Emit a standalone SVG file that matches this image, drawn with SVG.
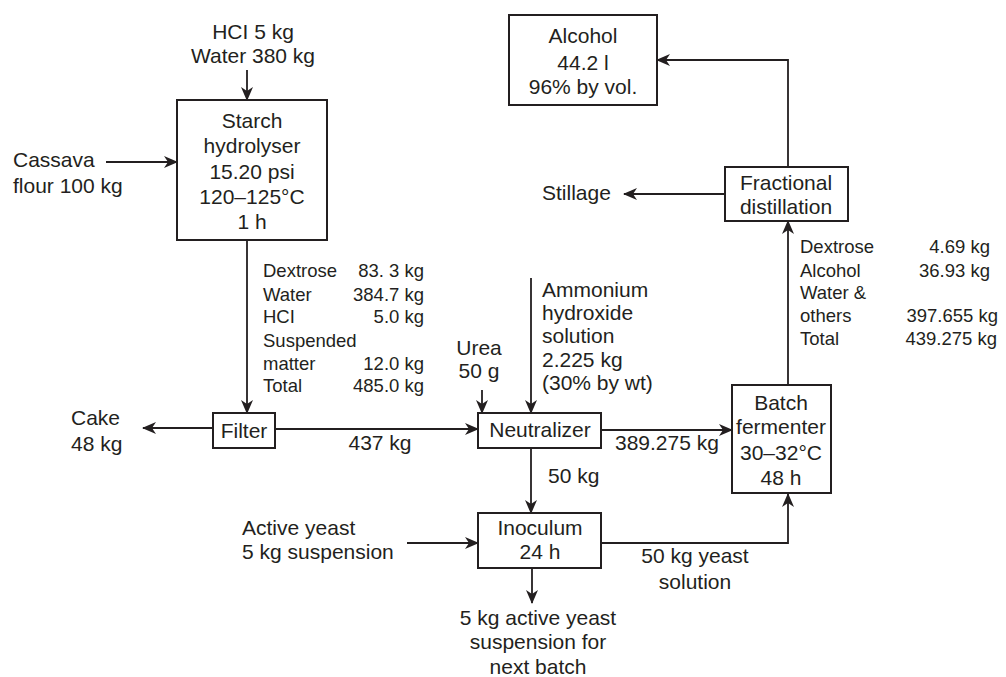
<svg xmlns="http://www.w3.org/2000/svg" width="1006" height="677" viewBox="0 0 1006 677">
<style>
text{font-family:"Liberation Sans",Arial,sans-serif;fill:#231f20;font-size:21px}
.t{font-size:18.5px}
.c{text-anchor:middle}
.e{text-anchor:end}
.box{fill:#fff;stroke:#231f20;stroke-width:2}
.ln{fill:none;stroke:#231f20;stroke-width:1.8;marker-end:url(#ah)}
</style>
<defs>
<marker id="ah" markerUnits="userSpaceOnUse" markerWidth="14" markerHeight="12" viewBox="0 0 14 12" refX="13" refY="6" orient="auto">
<path d="M0,0 L14,6 L0,12 L4,6 z" fill="#231f20"/>
</marker>
</defs>
<rect width="1006" height="677" fill="#fff"/>
<g id="connectors">
<line class="ln" x1="247" y1="70" x2="247" y2="100"/>
<line class="ln" x1="106" y1="162" x2="177" y2="162"/>
<line class="ln" x1="247" y1="240" x2="247" y2="413"/>
<line class="ln" x1="213" y1="428" x2="143" y2="428"/>
<line class="ln" x1="275" y1="429" x2="478" y2="429"/>
<line class="ln" x1="482" y1="390" x2="482" y2="413"/>
<line class="ln" x1="531" y1="278" x2="531" y2="413"/>
<line class="ln" x1="601" y1="430" x2="732" y2="430"/>
<line class="ln" x1="531" y1="448" x2="531" y2="513"/>
<line class="ln" x1="407" y1="543" x2="478" y2="543"/>
<line class="ln" x1="532" y1="568" x2="532" y2="603"/>
<path class="ln" d="M601,543 H788 V494"/>
<line class="ln" x1="788" y1="385" x2="788" y2="221"/>
<line class="ln" x1="725" y1="194" x2="624" y2="194"/>
<path class="ln" d="M788,167 V60 H657"/>
</g>
<g id="inputs">
<text class="c" x="253" y="39">HCI 5 kg</text>
<text class="c" x="253" y="63">Water 380 kg</text>
<text x="13" y="167">Cassava</text>
<text x="13" y="193">flour 100 kg</text>
<text class="c" x="479" y="355">Urea</text>
<text class="c" x="479" y="378">50 g</text>
<text x="542" y="297">Ammonium</text>
<text x="542" y="320">hydroxide</text>
<text x="542" y="343">solution</text>
<text x="542" y="367">2.225 kg</text>
<text x="542" y="390">(30% by wt)</text>
<text x="242" y="535">Active yeast</text>
<text x="242" y="559">5 kg suspension</text>
</g>
<g id="starch-hydrolyser">
<rect class="box" x="177" y="100" width="150" height="140"/>
<text class="c" x="252" y="128">Starch</text>
<text class="c" x="252" y="153">hydrolyser</text>
<text class="c" x="252" y="179">15.20 psi</text>
<text class="c" x="252" y="204">120–125°C</text>
<text class="c" x="252" y="229">1 h</text>
</g>
<g id="hydrolysate-table">
<text class="t" x="263" y="277">Dextrose</text><text class="t e" x="424" y="277">83. 3 kg</text>
<text class="t" x="263" y="301">Water</text><text class="t e" x="424" y="301">384.7 kg</text>
<text class="t" x="263" y="323">HCI</text><text class="t e" x="424" y="323">5.0 kg</text>
<text class="t" x="263" y="347">Suspended</text>
<text class="t" x="263" y="370">matter</text><text class="t e" x="424" y="370">12.0 kg</text>
<text class="t" x="263" y="392">Total</text><text class="t e" x="424" y="392">485.0 kg</text>
</g>
<g id="filter">
<rect class="box" x="213" y="413" width="62" height="35"/>
<text class="c" x="244" y="438">Filter</text>
</g>
<g id="cake">
<text x="71" y="425">Cake</text>
<text x="71" y="451">48 kg</text>
</g>
<g id="flow-labels">
<text class="c" x="380" y="450">437 kg</text>
<text x="615" y="450">389.275 kg</text>
<text x="548" y="483">50 kg</text>
<text class="c" x="695" y="563">50 kg yeast</text>
<text class="c" x="695" y="589">solution</text>
<text class="c" x="538" y="625">5 kg active yeast</text>
<text class="c" x="538" y="649">suspension for</text>
<text class="c" x="538" y="674">next batch</text>
</g>
<g id="neutralizer">
<rect class="box" x="478" y="413" width="123" height="35"/>
<text class="c" x="540" y="437">Neutralizer</text>
</g>
<g id="inoculum">
<rect class="box" x="478" y="513" width="123" height="55"/>
<text class="c" x="540" y="535">Inoculum</text>
<text class="c" x="540" y="559">24 h</text>
</g>
<g id="batch-fermenter">
<rect class="box" x="732" y="385" width="99" height="108"/>
<text class="c" x="781" y="410">Batch</text>
<text class="c" x="781" y="434">fermenter</text>
<text class="c" x="781" y="460">30–32°C</text>
<text class="c" x="781" y="485">48 h</text>
</g>
<g id="broth-table">
<text class="t" x="800" y="253">Dextrose</text><text class="t e" x="990" y="253">4.69 kg</text>
<text class="t" x="800" y="277">Alcohol</text><text class="t e" x="990" y="277">36.93 kg</text>
<text class="t" x="800" y="299">Water &amp;</text>
<text class="t" x="800" y="322">others</text><text class="t e" x="998" y="322">397.655 kg</text>
<text class="t" x="800" y="345">Total</text><text class="t e" x="997" y="345">439.275 kg</text>
</g>
<g id="fractional-distillation">
<rect class="box" x="725" y="167" width="123" height="54"/>
<text class="c" x="786" y="190">Fractional</text>
<text class="c" x="786" y="214">distillation</text>
</g>
<g id="stillage">
<text x="542" y="200">Stillage</text>
</g>
<g id="alcohol">
<rect class="box" x="509" y="15" width="148" height="90"/>
<text class="c" x="583" y="43">Alcohol</text>
<text class="c" x="583" y="70">44.2 l</text>
<text class="c" x="583" y="94">96% by vol.</text>
</g>
</svg>
